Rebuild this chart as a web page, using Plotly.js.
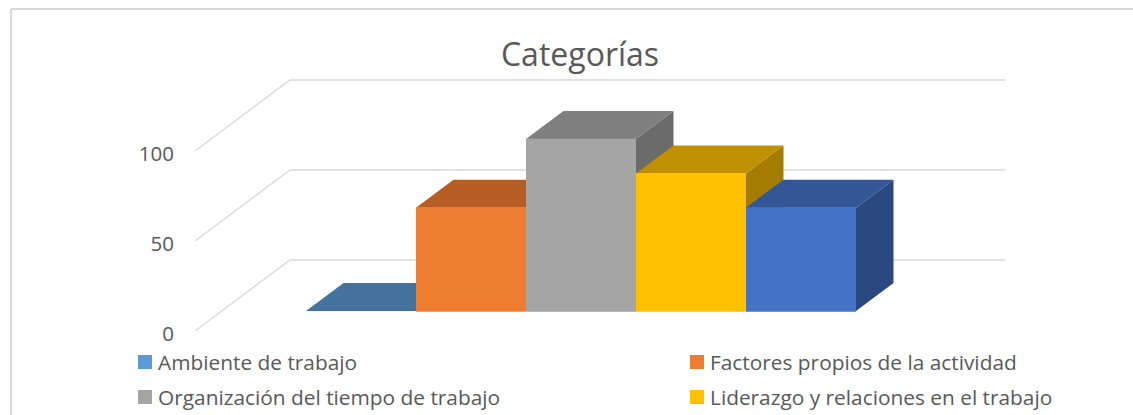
<!DOCTYPE html>
<html>
<head>
<meta charset="utf-8">
<script src="https://cdn.plot.ly/plotly-3.0.1.min.js"></script>
<style>
html,body{margin:0;padding:0;background:#fff;overflow:hidden}
/* the reference sets its legend text closer to the swatch than Plotly's fixed item gap */
.legendtext,.legend2text,.legend3text,.legend4text{transform:translateX(-7px)}
/* and its axis numbers a little below the gridline ends */
.yaxislayer-above{transform:translateY(3px)}
/* the zero-height bar shows no outline */
.barlayer .trace:first-child path{stroke:none !important}
</style>
</head>
<body>
<div id="chart" style="width:1133px;height:415px"></div>
<script>
// Data. The fifth series' legend entry is cropped out of the reference.
const seriesNames = ["Ambiente de trabajo", "Factores propios de la actividad",
                     "Organización del tiempo de trabajo", "Liderazgo y relaciones en el trabajo", null];
const seriesValues = [0, 60, 100, 80, 60];
const frontColors = ["#5B9BD5", "#ED7D31", "#A5A5A5", "#FFC000", "#4472C4"];
const topColors   = ["#44739F", "#B65E25", "#7F7F7F", "#BF9000", "#335695"];
const sideColors  = ["#3B6489", "#9E5220", "#6B6B6B", "#A37C00", "#2A4880"];
const axisTicks = [0, 50, 100];
const legendCols = [125, 677], legendRows = [362.5, 397.5];

// Layout geometry of the oblique projection (pixels).
const W = 1133, H = 415, L = 195, R = 1005, T = 70, B = 340;
const catW = 110, cat0 = 361;                 // front-face width, centre of first bar
const axisPx = 1.8, axis0 = 331;              // scale of the value axis at the wall's front edge
const frontPx = 1.72, front0 = 311;           // scale of the bars' front plane
const barPx = 1.71, barZero = 310.8;          // same plane for the outlined bars
const depthX = 37.5, depthY = 28;             // bar depth
const wallX = 95, wallY = 71;                 // wall depth
const barLine = 2;                            // outline of the bars, which also sizes the legend swatches

const xu = px => (px - cat0) / catW;
const yu = px => (axis0 - px) / axisPx;
const frontY = v => yu(front0 - frontPx * v);

const traces = [];
// walls / gridlines
axisTicks.forEach(t => traces.push({
  type: 'scatter', mode: 'lines', xaxis: 'x', yaxis: 'y', showlegend: false, hoverinfo: 'skip',
  x: [xu(L), xu(L + wallX), xu(R)],
  y: [t, t + wallY / axisPx, t + wallY / axisPx],
  line: {color: '#D9D9D9', width: 1.3}
}));
// top and side faces, left to right
seriesValues.forEach((v, i) => {
  const x0 = xu(cat0 + catW * (i - 0.5)), x1 = xu(cat0 + catW * (i + 0.5));
  const dx = depthX / catW, dy = depthY / axisPx;
  const poly = (xs, ys, color) => traces.push({
    type: 'scatter', mode: 'lines', xaxis: 'x', yaxis: 'y', showlegend: false, hoverinfo: 'skip',
    x: xs, y: ys, fill: 'toself', fillcolor: color, line: {width: 0, color: color}
  });
  poly([x1, x1 + dx, x1 + dx, x1, x1], [frontY(0), frontY(0) + dy, frontY(v) + dy, frontY(v), frontY(0)], sideColors[i]);
  poly([x0, x0 + dx, x1 + dx, x1, x0], [frontY(v), frontY(v) + dy, frontY(v) + dy, frontY(v), frontY(v)], topColors[i]);
});
// front faces: real bars on an overlaid axis that shows the bars' front plane
const legendIds = ['legend', 'legend2', 'legend3', 'legend4'];
seriesValues.forEach((v, i) => traces.push({
  type: 'bar', xaxis: 'x', yaxis: 'y2', x: [i], y: [v], width: (catW - barLine) / catW,
  name: seriesNames[i] || '', showlegend: seriesNames[i] !== null,
  legend: legendIds[i] || 'legend',
  marker: {color: frontColors[i], line: {width: barLine, color: frontColors[i]}}
}));

const txt = '#595959', fontFam = '"Open Sans", sans-serif';
const legendCommon = {
  orientation: 'v', xref: 'container', yref: 'container', xanchor: 'left', yanchor: 'middle',
  bgcolor: 'rgba(0,0,0,0)', font: {family: fontFam, size: 20.85, color: txt}
};
const layout = {
  width: W, height: H, autosize: false, paper_bgcolor: '#fff', plot_bgcolor: 'rgba(0,0,0,0)',
  margin: {l: L, r: W - R, t: T, b: H - B, pad: 0, autoexpand: false},
  barmode: 'overlay',
  title: {text: 'Categorías', x: 580 / W, xanchor: 'center', y: 1 - 55 / H, yanchor: 'middle',
          xref: 'container', yref: 'container', automargin: false, font: {family: fontFam, size: 32, color: txt}},
  xaxis: {range: [xu(L), xu(R)], visible: false, fixedrange: true},
  yaxis: {range: [yu(B), yu(T)], tickvals: axisTicks, ticktext: axisTicks.map(String), showgrid: false,
          zeroline: false, showline: false, ticks: '', ticklabelstandoff: 20, fixedrange: true,
          tickfont: {family: fontFam, size: 20.5, color: txt}},
  yaxis2: {overlaying: 'y', range: [(barZero - B) / barPx, (barZero - T) / barPx], visible: false, fixedrange: true},
  showlegend: true,
  shapes: [
    {type: 'line', xref: 'paper', yref: 'paper', layer: 'below', line: {color: '#D9D9D9', width: 2},
     x0: (11 - L) / (R - L), x1: (W - L) / (R - L), y0: (B - 9) / (B - T), y1: (B - 9) / (B - T)},
    {type: 'line', xref: 'paper', yref: 'paper', layer: 'below', line: {color: '#D9D9D9', width: 2},
     x0: (11 - L) / (R - L), x1: (11 - L) / (R - L), y0: (B - 9) / (B - T), y1: (B - H) / (B - T)}
  ]
};
legendIds.forEach((id, k) => {
  layout[id] = Object.assign({x: legendCols[k % 2] / W, y: 1 - legendRows[k >> 1] / H}, legendCommon);
});
Plotly.newPlot('chart', traces, layout, {displayModeBar: false, staticPlot: true});
</script>
</body>
</html>
